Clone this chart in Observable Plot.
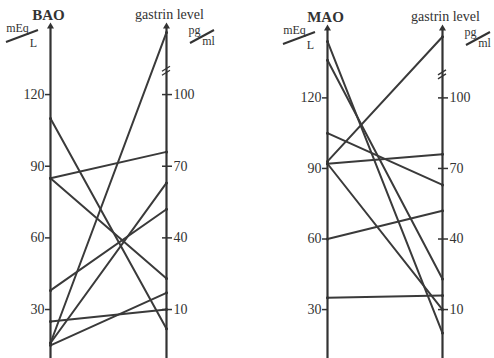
<!DOCTYPE html>
<html><head><meta charset="utf-8">
<script src="https://cdn.jsdelivr.net/npm/d3@7"></script>
<script src="https://cdn.jsdelivr.net/npm/@observablehq/plot@0.6"></script>
<style>
body{margin:0;background:#fff;}
#wrap{display:flex;width:494px;height:358px;overflow:hidden;}
#wrap svg{display:block;}
#wrap svg text{font-family:"Liberation Serif","Times New Roman",serif;}
</style></head><body><div id="wrap"></div>
<script>
// one entry per patient
const patients = ["P1","P2","P3","P4","P5","P6","P7","P8"];
// gastrin level (pg/ml); P1 lies above the axis break
const gastrinLeftPanel = [126, 76, 63, 52, 23, 17, 10, 2];
const gastrinRightPanel = [126, 76, 63, 52, 23, 16, 10, 0];
const bao = [16, 85, 16, 38, 85, 15, 25, 110];   // mEq/L
const mao = [93, 92, 105, 60, 136, 35, 92, 144]; // mEq/L
const acidTicks = [30, 60, 90, 120];
const gastrinTicks = [10, 40, 70, 100];
const gastrinBreak = 110;
const gastrinOffset = 20; // 100 pg/ml sits level with 120 mEq/L

const INK = "#333";
const FONT = "Liberation Serif, Times New Roman, serif";

function panel({title, acid, gastrin, marginLeft, marginRight, marginTop, domain}) {
  const rows = [];
  patients.forEach((p, i) => {
    rows.push({p, side: 0, v: acid[i]});
    rows.push({p, side: 1, v: gastrin[i] + gastrinOffset});
  });
  const plot = Plot.plot({
    width: 247, height: 358,
    marginLeft, marginRight, marginTop, marginBottom: 0,
    x: {domain: [0, 1], axis: null},
    y: {domain, axis: null},
    style: {fontFamily: FONT, fontSize: "14px", color: INK, background: "transparent", overflow: "visible"},
    marks: [
      Plot.ruleX([0, 1], {x: d => d, y1: domain[0], y2: domain[1], stroke: INK, strokeWidth: 2.2}),
      Plot.dot([0, 1], {x: d => d, y: domain[1], symbol: "triangle", r: 2.6, fill: INK}),
      Plot.line(rows, {x: "side", y: "v", z: "p", stroke: "#3a3a3a", strokeWidth: 2}),
      Plot.dot(rows, {x: "side", y: "v", r: 1.5, fill: INK}),
      Plot.axisY(acidTicks, {anchor: "left", tickSize: 5, tickPadding: 1, stroke: INK, strokeWidth: 1.5, fill: INK, fontSize: 14, fontFamily: FONT, label: null}),
      Plot.axisY(gastrinTicks.map(g => g + gastrinOffset), {anchor: "right", tickSize: 10, dx: -5, tickPadding: 2, tickFormat: d => d - gastrinOffset, stroke: INK, strokeWidth: 1.5, fill: INK, fontSize: 14, fontFamily: FONT, label: null}),
      Plot.text([title], {x: 0, y: domain[1], text: d => d, dx: -2, dy: -7, lineAnchor: "bottom", fontSize: 15, fontWeight: "bold", fontFamily: FONT, fill: INK}),
      Plot.text(["gastrin level"], {x: 1, y: domain[1], text: d => d, dx: 3, dy: -8, lineAnchor: "bottom", fontSize: 14, fontFamily: FONT, fill: INK}),
      Plot.text(["mEq"], {x: 0, y: domain[1], text: d => d, dx: -33, dy: -3, lineAnchor: "top", fontSize: 12, fontFamily: FONT, fill: INK}),
      Plot.text(["L"], {x: 0, y: domain[1], text: d => d, dx: -17, dy: 12, lineAnchor: "top", fontSize: 12, fontFamily: FONT, fill: INK}),
      Plot.text(["pg"], {x: 1, y: domain[1], text: d => d, dx: 28, dy: -1, lineAnchor: "top", fontSize: 12, fontFamily: FONT, fill: INK}),
      Plot.text(["ml"], {x: 1, y: domain[1], text: d => d, dx: 42, dy: 10, lineAnchor: "top", fontSize: 12, fontFamily: FONT, fill: INK})
    ]
  });
  const sx = plot.scale("x"), sy = plot.scale("y");
  const x0 = sx.apply(0), x1 = sx.apply(1), yt = sy.apply(domain[1]);
  const svg = d3.select(plot);
  const g = svg.append("g").attr("stroke", INK).attr("stroke-width", 2);
  // unit fraction slashes
  g.append("line").attr("x1", x0 - 44).attr("y1", yt + 16).attr("x2", x0 - 12).attr("y2", yt + 4);
  g.append("line").attr("x1", x1 + 24).attr("y1", yt + 17).attr("x2", x1 + 48).attr("y2", yt + 4);
  // axis break marks
  const yb = sy.apply(gastrinBreak + gastrinOffset);
  g.append("line").attr("x1", x1 - 4).attr("y1", yb + 1).attr("x2", x1 + 4).attr("y2", yb - 4).attr("stroke-width", 1.3);
  g.append("line").attr("x1", x1 - 4).attr("y1", yb + 5).attr("x2", x1 + 4).attr("y2", yb).attr("stroke-width", 1.3);
  return plot;
}

const wrap = document.getElementById("wrap");
wrap.append(panel({title: "BAO", acid: bao, gastrin: gastrinLeftPanel, marginLeft: 50, marginRight: 81, marginTop: 26, domain: [9.5, 148.5]}));
wrap.append(panel({title: "MAO", acid: mao, gastrin: gastrinRightPanel, marginLeft: 80, marginRight: 52, marginTop: 28, domain: [9.2, 149.5]}));
</script></body></html>
